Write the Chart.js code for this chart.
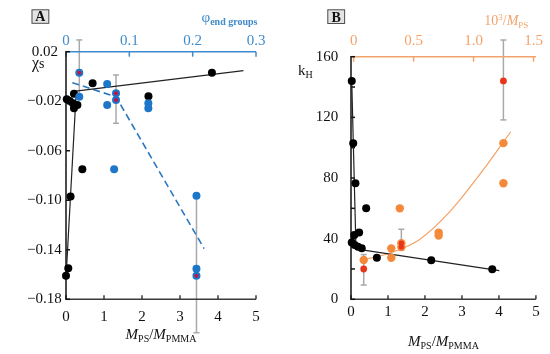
<!DOCTYPE html>
<html><head><meta charset="utf-8">
<script src="https://cdn.jsdelivr.net/npm/chart.js@4/dist/chart.umd.min.js"></script>
<style>
html,body{margin:0;padding:0;background:#fff;}
#wrap{position:relative;width:550px;height:354px;overflow:hidden;}
.pane{position:absolute;top:0;width:275px;height:354px;}
</style></head><body>
<div id="wrap">
<div class="pane" style="left:0"><canvas id="cA"></canvas></div>
<div class="pane" style="left:275px"><canvas id="cB"></canvas></div>
</div>
<script>
// ---------- Panel A data ----------
const ratioTicks = [0, 1, 2, 3, 4, 5];
const ratioLabels = ['0', '1', '2', '3', '4', '5'];
const phiTicks = [0, 0.1, 0.2, 0.3];
const phiLabels = ['0', '0.1', '0.2', '0.3'];
const chiTicks = [0.02, -0.02, -0.06, -0.10, -0.14, -0.18];
const chiLabels = ['0.02 ', '\u22120.02', '\u22120.06', '\u22120.10', '\u22120.14', '\u22120.18'];

const blackRatioA = [0.00, 0.06, 0.12, 0.43, 0.02, 0.10, 0.18, 0.30, 0.21, 0.21, 0.70, 2.17, 3.84];
const blackChiA   = [-0.161, -0.155, -0.097, -0.075, -0.0185, -0.0198, -0.0217, -0.023, -0.0257, -0.014, -0.0055, -0.016, 0.003];
const bluePhi = [0.021, 0.021, 0.065, 0.065, 0.079, 0.079, 0.130, 0.130, 0.076, 0.206, 0.206, 0.206];
const blueChi = [0.003, -0.0163, -0.006, -0.023, -0.0136, -0.019, -0.0217, -0.0257, -0.075, -0.0963, -0.1553, -0.161];
const redPhi = [0.021, 0.079, 0.079, 0.206];
const redChi = [0.003, -0.0136, -0.019, -0.161];
const steepRatioA = [0.00, 0.27];
const steepChiA   = [-0.163, -0.012];
const flatRatioA  = [0.15, 4.67];
const flatChiA    = [-0.0123, 0.0047];
const dashPhi = [0.010, 0.079, 0.218];
const dashChi = [-0.005, -0.0165, -0.139];
const errPhiA = [0.021, 0.079, 0.206];
const errLoA  = [-0.016, -0.0378, -0.207];
const errHiA  = [0.0295, 0.0012, -0.0963];

// ---------- Panel B data ----------
const invMTicks = [0, 0.5, 1.0, 1.5];
const invMLabels = ['0', '0.5', '1.0', '1.5'];
const kTicks = [0, 40, 80, 120, 160];
const kLabels = ['0', '40', '80', '120', '160'];
const kMinorTicks = [0, 20, 40, 60, 80, 100, 120, 140, 160];

const blackRatioB = [0.02, 0.06, 0.12, 0.41, 0.09, 0.22, 0.02, 0.10, 0.19, 0.29, 0.70, 2.17, 3.82];
const blackKB     = [144, 103, 76.5, 60, 42.4, 44, 37.5, 35.8, 34.6, 33.6, 27.4, 25.7, 19.8];
const orangeInvM = [0.084, 0.314, 0.314, 0.385, 0.398, 0.398, 0.709, 0.709, 1.249, 1.249];
const orangeK    = [25.9, 33.6, 27.4, 60, 37, 34.5, 44, 42, 103, 76.5];
const redFullInvM = [0.084, 1.249];
const redFullK    = [20, 144];
const redDotInvM  = [0.398, 0.398];
const redDotK     = [37, 34.5];
const steepRatioB = [0.02, 0.13];
const steepKB     = [144, 38];
const flatRatioB  = [0.12, 4.01];
const flatKB      = [33.3, 18.9];
const curveInvM = [0.07, 0.31, 0.55, 0.81, 1.08, 1.31];
const curveK    = [25.9, 30.7, 39.5, 58.5, 85.3, 110.5];
const errInvMB = [0.084, 0.398, 1.249];
const errLoB   = [9.4, 32.5, 118.3];
const errHiB   = [29.5, 46.2, 171];

// ---------- helpers ----------
const SERIF = "'Liberation Serif','Times New Roman',serif";
const BLUE_AX = '#3F8BCB', ORANGE_AX = '#F2A36C';
function pts(xs, ys) { return xs.map((x, i) => ({x: x, y: ys[i]})); }
function runs(ctx, parts, x, y, align, color) {
  ctx.save(); ctx.fillStyle = color; ctx.textBaseline = 'alphabetic'; ctx.textAlign = 'left';
  let w = 0;
  parts.forEach(p => { ctx.font = p.f; p.w = ctx.measureText(p.t).width; w += p.w; });
  let cx = align === 'center' ? x - w / 2 : (align === 'right' ? x - w : x);
  parts.forEach(p => { ctx.font = p.f; ctx.fillText(p.t, cx, y + (p.dy || 0)); cx += p.w; });
  ctx.restore();
}
function seg(ctx, x1, y1, x2, y2) { ctx.beginPath(); ctx.moveTo(x1, y1); ctx.lineTo(x2, y2); ctx.stroke(); }

function scaleOpts(pos, min, max, tickVals, tickLabels, color, pad, size) {
  return {
    type: 'linear', position: pos, min: min, max: max,
    grid: {display: false, drawTicks: false},
    border: {display: false},
    afterBuildTicks: s => { s.ticks = tickVals.map(v => ({value: v})); },
    afterFit: s => { if (pos === 'left' || pos === 'right') s.width = size; else s.height = size; },
    ticks: {
      autoSkip: false, maxRotation: 0, padding: pad, color: color,
      font: {family: SERIF, size: 15},
      callback: (v, i) => tickLabels[i]
    }
  };
}

function decoPlugin(spec) {
  return {
    id: 'deco',
    beforeDatasetsDraw(chart) {
      const ctx = chart.ctx, a = chart.chartArea, S = chart.scales;
      ctx.save();
      // error bars
      ctx.strokeStyle = '#A9A9A9'; ctx.lineWidth = 1.5;
      spec.err.x.forEach((xv, i) => {
        const px = S[spec.err.scale].getPixelForValue(xv);
        const lo = S.y.getPixelForValue(spec.err.lo[i]);
        const hi = S.y.getPixelForValue(spec.err.hi[i]);
        seg(ctx, px, lo, px, hi);
        seg(ctx, px - 3, lo, px + 3, lo);
        seg(ctx, px - 3, hi, px + 3, hi);
      });
      // top axis
      ctx.lineWidth = 1.5; ctx.strokeStyle = spec.topColor;
      seg(ctx, a.left, a.top, a.right, a.top);
      spec.topTicks.forEach(v => { const px = S.x2.getPixelForValue(v); seg(ctx, px, a.top, px, a.top + 5); });
      // bottom axis
      ctx.strokeStyle = '#3A3A3A';
      seg(ctx, a.left, a.bottom, a.right, a.bottom);
      spec.bottomTicks.forEach(v => { const px = S.x.getPixelForValue(v); seg(ctx, px, a.bottom, px, a.bottom - 4); });
      // left axis
      ctx.strokeStyle = '#111';
      seg(ctx, a.left, a.top - 0.75, a.left, a.bottom + 0.75);
      spec.leftTicks.forEach(v => { const py = S.y.getPixelForValue(v); seg(ctx, a.left, py, a.left + 4, py); });
      ctx.restore();
    },
    afterDraw(chart) {
      const ctx = chart.ctx, a = chart.chartArea;
      ctx.save();
      // panel letter box
      const b = spec.box;
      ctx.fillStyle = '#E3E3E3'; ctx.fillRect(b.x, b.y, b.w, b.h);
      ctx.strokeStyle = '#505050'; ctx.lineWidth = 1; ctx.strokeRect(b.x + 0.5, b.y + 0.5, b.w - 1, b.h - 1);
      ctx.fillStyle = '#111'; ctx.font = 'bold 14px ' + SERIF; ctx.textAlign = 'center'; ctx.textBaseline = 'alphabetic';
      ctx.fillText(spec.letter, b.x + b.w / 2, b.y + b.h - 2.5);
      ctx.restore();
      // bottom title
      runs(ctx, [
        {t: 'M', f: 'italic 15px ' + SERIF}, {t: 'PS', f: '10px ' + SERIF, dy: 3},
        {t: '/', f: '15px ' + SERIF},
        {t: 'M', f: 'italic 15px ' + SERIF}, {t: 'PMMA', f: '10px ' + SERIF, dy: 3}
      ], (a.left + a.right) / 2, spec.titleY, 'center', '#111');
      spec.extra(ctx, a);
    }
  };
}

function baseOptions(padRight) {
  return {
    responsive: true, maintainAspectRatio: false, animation: false, devicePixelRatio: 1,
    layout: {padding: {left: 0, right: padRight, top: 0, bottom: 0}},
    plugins: {legend: {display: false}, tooltip: {enabled: false}},
  };
}

// ---------- Chart A ----------
const optA = baseOptions(19);
optA.scales = {
  x: scaleOpts('bottom', 0, 5, ratioTicks, ratioLabels, '#111', 9, 54.7),
  x2: scaleOpts('top', 0, 0.3, phiTicks, phiLabels, BLUE_AX, 2, 51.7),
  y: scaleOpts('left', -0.18, 0.02, chiTicks, chiLabels, '#111', 4.3, 66)
};
new Chart(document.getElementById('cA'), {
  type: 'scatter',
  data: {datasets: [
    {data: pts(redPhi, redChi), xAxisID: 'x2', yAxisID: 'y', backgroundColor: '#B8184A', borderWidth: 0, pointRadius: 2.1, clip: false},
    {data: pts(bluePhi, blueChi), xAxisID: 'x2', yAxisID: 'y', backgroundColor: '#1E76C8', borderWidth: 0, pointRadius: 4, clip: false},
    {data: pts(blackRatioA, blackChiA), xAxisID: 'x', yAxisID: 'y', backgroundColor: '#000', borderWidth: 0, pointRadius: 4, clip: false},
    {data: pts(steepRatioA, steepChiA), xAxisID: 'x', yAxisID: 'y', showLine: true, borderColor: '#222', borderWidth: 1.2, pointRadius: 0, clip: false},
    {data: pts(flatRatioA, flatChiA), xAxisID: 'x', yAxisID: 'y', showLine: true, borderColor: '#222', borderWidth: 1.2, pointRadius: 0, clip: false},
    {data: pts(dashPhi, dashChi), xAxisID: 'x2', yAxisID: 'y', showLine: true, borderColor: '#2A78C2', borderWidth: 1.6, borderDash: [7, 4], pointRadius: 0, clip: false}
  ]},
  options: optA,
  plugins: [decoPlugin({
    err: {scale: 'x2', x: errPhiA, lo: errLoA, hi: errHiA},
    topColor: BLUE_AX, topTicks: phiTicks, bottomTicks: ratioTicks, leftTicks: chiTicks,
    box: {x: 31.5, y: 9.3, w: 17.8, h: 14.5}, letter: 'A', titleY: 339,
    extra: (ctx, a) => {
      runs(ctx, [{t: '\u03C7', f: '16px ' + SERIF}, {t: 's', f: '14px ' + SERIF, dy: 0}], 32, 67.5, 'left', '#111');
      runs(ctx, [{t: '\u03C6', f: '15px ' + SERIF}, {t: 'end groups', f: 'bold 10px ' + SERIF, dy: 3}], 201.5, 22, 'left', BLUE_AX);
    }
  })]
});

// ---------- Chart B ----------
const optB = baseOptions(9);
optB.scales = {
  x: scaleOpts('bottom', 0, 5, ratioTicks, ratioLabels, '#111', 3.4, 54.7),
  x2: scaleOpts('top', -0.022, 1.52, invMTicks, invMLabels, ORANGE_AX, 7, 56.7),
  y: scaleOpts('left', 0, 160, kTicks, kLabels, '#111', 12.7, 76)
};
new Chart(document.getElementById('cB'), {
  type: 'scatter',
  data: {datasets: [
    {data: pts(redDotInvM, redDotK), xAxisID: 'x2', yAxisID: 'y', backgroundColor: '#E8361A', borderWidth: 0, pointRadius: 2.6, clip: false},
    {data: pts(redFullInvM, redFullK), xAxisID: 'x2', yAxisID: 'y', backgroundColor: '#E8361A', borderWidth: 0, pointRadius: 3.4, clip: false},
    {data: pts(orangeInvM, orangeK), xAxisID: 'x2', yAxisID: 'y', backgroundColor: '#F5893A', borderWidth: 0, pointRadius: 4.2, clip: false},
    {data: pts(blackRatioB, blackKB), xAxisID: 'x', yAxisID: 'y', backgroundColor: '#000', borderWidth: 0, pointRadius: 4, clip: false},
    {data: pts(steepRatioB, steepKB), xAxisID: 'x', yAxisID: 'y', showLine: true, borderColor: '#222', borderWidth: 1.2, pointRadius: 0, clip: false},
    {data: pts(flatRatioB, flatKB), xAxisID: 'x', yAxisID: 'y', showLine: true, borderColor: '#222', borderWidth: 1.2, pointRadius: 0, clip: false},
    {data: pts(curveInvM, curveK), xAxisID: 'x2', yAxisID: 'y', showLine: true, borderColor: '#F4A266', borderWidth: 1.2, pointRadius: 0, cubicInterpolationMode: 'monotone', clip: false}
  ]},
  options: optB,
  plugins: [decoPlugin({
    err: {scale: 'x2', x: errInvMB, lo: errLoB, hi: errHiB},
    topColor: ORANGE_AX, topTicks: invMTicks, bottomTicks: ratioTicks, leftTicks: kMinorTicks,
    box: {x: 52.3, y: 9.3, w: 17.8, h: 14.7}, letter: 'B', titleY: 346,
    extra: (ctx, a) => {
      runs(ctx, [{t: 'k', f: '15px ' + SERIF}, {t: 'H', f: '10px ' + SERIF, dy: 3}], 23, 75, 'left', '#111');
      runs(ctx, [{t: '10', f: '14px ' + SERIF}, {t: '3', f: '9px ' + SERIF, dy: -5}, {t: '/', f: '14px ' + SERIF},
                 {t: 'M', f: 'italic 14px ' + SERIF}, {t: 'PS', f: '9px ' + SERIF, dy: 3}], 209.3, 25, 'left', ORANGE_AX);
    }
  })]
});
</script>
</body></html>
